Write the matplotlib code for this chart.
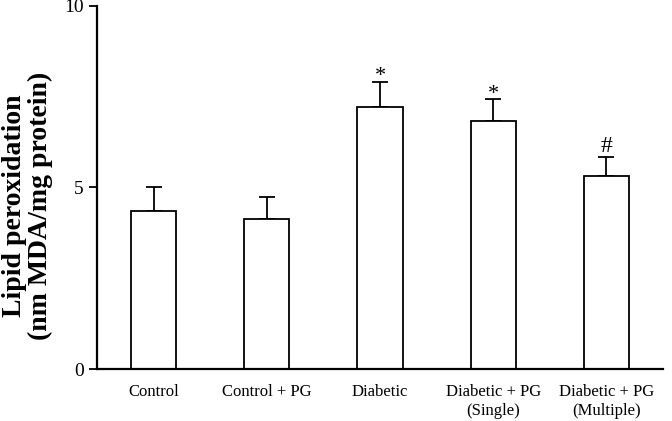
import numpy as np
import matplotlib
matplotlib.use("Agg")
import matplotlib.pyplot as plt

plt.rcParams['font.family'] = ['Liberation Serif', 'DejaVu Serif']

# Data
groups = ["Control", "Control + PG", "Diabetic", "Diabetic + PG\n(Single)",
          "Diabetic + PG\n(Multiple)"]
means = [4.35, 4.12, 7.22, 6.82, 5.31]
errors = [0.65, 0.62, 0.70, 0.61, 0.54]
marks = ["", "", "*", "*", "#"]

x = np.arange(len(groups))

fig = plt.figure(figsize=(6.72, 4.21), dpi=100)
ax = fig.add_axes([97 / 672, 52 / 421, 566 / 672, 363 / 421])

ax.bar(x, means, width=0.4, color='white', edgecolor='black', linewidth=1.3,
       zorder=2)
ax.errorbar(x, means, yerr=[np.zeros(len(means)), errors], fmt='none',
            ecolor='black', elinewidth=1.3, capsize=5.5, capthick=1.3,
            zorder=1)

# significance marks above the error caps
for xi, m, e, s in zip(x, means, errors, marks):
    if s == "*":
        ax.text(xi, m + e + 0.01, s, ha='center', va='baseline', fontsize=16)
    elif s:
        ax.text(xi, m + e + 0.13, s, ha='center', va='baseline', fontsize=17)

ax.set_xlim(-0.5, 4.5)
ax.set_ylim(0, 10)
ax.set_yticks([0, 5, 10])
ax.set_xticks(x)
ax.set_xticklabels(groups, fontsize=12, linespacing=1.2)
ax.tick_params(axis='x', length=0, pad=11)
ax.tick_params(axis='y', direction='out', length=6, width=1.3, labelsize=14,
               pad=3.5)
for side in ['top', 'right']:
    ax.spines[side].set_visible(False)
for side in ['left', 'bottom']:
    ax.spines[side].set_linewidth(1.6)

ax.set_ylabel("Lipid peroxidation\n(nm MDA/mg protein)", fontsize=20,
              fontweight='bold', linespacing=1.05)
ax.yaxis.set_label_coords(-0.078, 0.45)

fig.savefig("out.png", dpi=100)
